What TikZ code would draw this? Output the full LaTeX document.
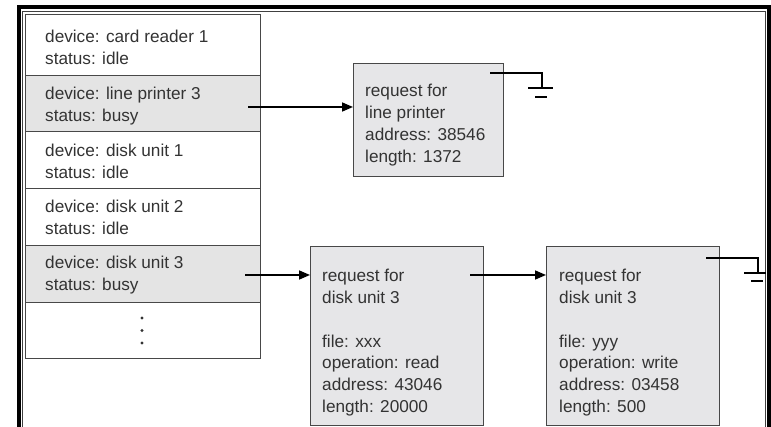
\documentclass[tikz,border=0pt]{standalone}
\usepackage{fontspec}
\setmainfont{Liberation Sans}
\usetikzlibrary{arrows.meta}
\definecolor{txt}{HTML}{333333}
\definecolor{shade}{HTML}{E4E4E4}
\definecolor{boxfill}{HTML}{E6E6E8}
\definecolor{edge}{HTML}{484848}
\newcommand\tlines[1]{\vtop{\baselineskip=21.7pt\lineskiplimit=-20pt\halign{##\hfil\cr#1\crcr}}}
\tikzset{
  row/.style={draw=edge, line width=1.3pt, anchor=north west, minimum width=235pt, inner sep=0pt},
  reqbox/.style={draw=edge, line width=1.4pt, fill=boxfill, anchor=north west, inner sep=0pt},
  lbl/.style={anchor=base west, inner sep=0pt, text=txt},
  arr/.style={line width=1.6pt, -{Triangle[length=11pt,width=9pt]}},
  gnd/.style={line width=1.6pt},
  gndshort/.style={line width=2.6pt},
}
\begin{document}
\begin{tikzpicture}[x=1pt,y=-1pt,font=\fontsize{17.2}{21.7}\selectfont]
\useasboundingbox (0,0) rectangle (771,427);
\clip (0,0) rectangle (771,427);
\fill[white] (0,0) rectangle (771,427);
% outer frame
\draw[line width=4pt] (19,520) -- (19,7) -- (769,7) -- (769,520);
\draw[line width=0.9pt, black!75] (22.5,520) -- (22.5,11) -- (765.5,11) -- (765.5,520);
% device table
\node[row, minimum height=61pt] (r1) at (25,14) {};
\node[row, minimum height=56pt, fill=shade] (r2) at (25,75) {};
\node[row, minimum height=57pt] (r3) at (25,131) {};
\node[row, minimum height=57pt] (r4) at (25,188) {};
\node[row, minimum height=57pt, fill=shade] (r5) at (25,245) {};
\node[row, minimum height=56pt] (r6) at (25,302) {};
\node[lbl] (t1) at (45,43) {\tlines{device: card reader 1\cr status: idle}};
\node[lbl] (t2) at (45,100) {\tlines{device: line printer 3\cr status: busy}};
\node[lbl] (t3) at (45,157) {\tlines{device: disk unit 1\cr status: idle}};
\node[lbl] (t4) at (45,213) {\tlines{device: disk unit 2\cr status: idle}};
\node[lbl] (t5) at (45,269) {\tlines{device: disk unit 3\cr status: busy}};
\fill[txt] (142,318) circle (1.7pt) (142,330.5) circle (1.7pt) (142,343) circle (1.7pt);
% request boxes
\node[reqbox, minimum width=150pt, minimum height=113pt] (lp) at (353,63) {};
\node[lbl] (lpt) at (365,97) {\tlines{request for\cr line printer\cr address: 38546\cr length: 1372}};
\node[reqbox, minimum width=173pt, minimum height=179pt] (d1) at (310,246) {};
\node[lbl] (d1t) at (322,282) {\tlines{request for\cr disk unit 3\cr \cr file: xxx\cr operation: read\cr address: 43046\cr length: 20000}};
\node[reqbox, minimum width=173pt, minimum height=179pt] (d2) at (546,246) {};
\node[lbl] (d2t) at (559,282) {\tlines{request for\cr disk unit 3\cr \cr file: yyy\cr operation: write\cr address: 03458\cr length: 500}};
% arrows
\coordinate (a1) at (248,107);
\coordinate (a2) at (245,275);
\coordinate (a3) at (470,275);
\draw[arr] (a1) -- (a1 -| lp.west);
\draw[arr] (a2) -- (a2 -| d1.west);
\draw[arr] (a3) -- (a3 -| d2.west);
% ground symbols
\coordinate (g1) at (490,73);
\coordinate (g1c) at (542,88);
\draw[gnd] (g1) -| (g1c);
\draw[gnd] (528,88) -- (553,88);
\draw[gndshort] (535,97) -- (547,97);
\coordinate (g2) at (706,258);
\coordinate (g2c) at (758,273);
\draw[gnd] (g2) -| (g2c);
\draw[gnd] (744,273) -- (766,273);
\draw[gndshort] (751,281) -- (763,281);
\end{tikzpicture}
\end{document}
